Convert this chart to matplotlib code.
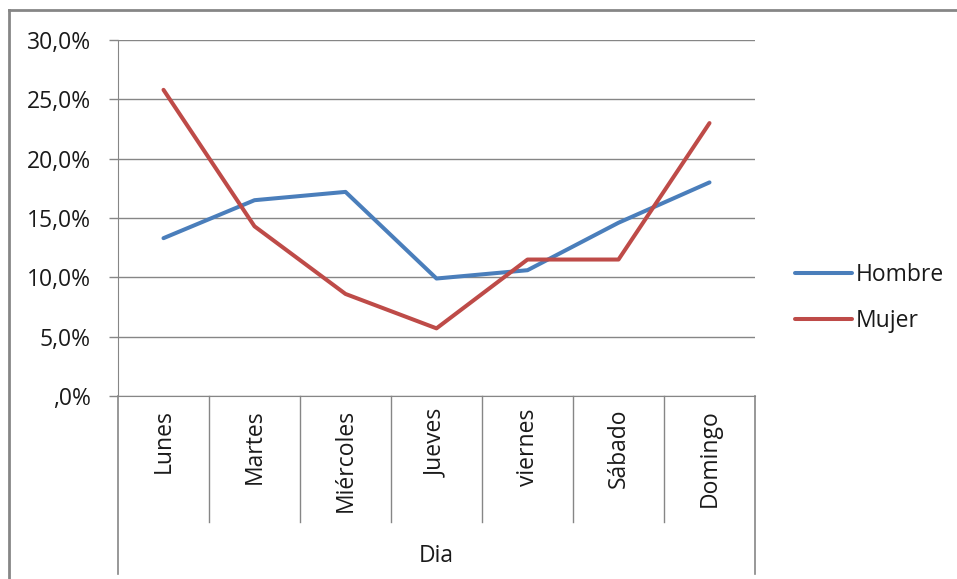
import matplotlib
matplotlib.use("Agg")
import matplotlib.pyplot as plt
from matplotlib.lines import Line2D
import matplotlib.transforms as mtransforms

categories = ["Lunes", "Martes", "Miércoles", "Jueves", "viernes", "Sábado", "Domingo"]
hombre = [13.3, 16.5, 17.2, 9.9, 10.6, 14.6, 18.0]
mujer = [25.8, 14.3, 8.6, 5.7, 11.5, 11.5, 23.0]
ytick_values = [0, 5, 10, 15, 20, 25, 30]
ytick_labels = [",0%", "5,0%", "10,0%", "15,0%", "20,0%", "25,0%", "30,0%"]
x_title = "Dia"
series_names = ["Hombre", "Mujer"]

plt.rcParams['font.family'] = ['Open Sans', 'DejaVu Sans']
FS = 16.5
TXT = "#1a1a1a"

W, H = 957, 579
fig = plt.figure(figsize=(W / 100, H / 100), dpi=100)

def fx(px):
    return px / W

def fy(py):
    return 1 - py / H

left, right, top, bottom = 118, 755, 40, 396
ax = fig.add_axes([fx(left), fy(bottom), fx(right) - fx(left), fy(top) - fy(bottom)])

xs = list(range(len(categories)))
grid_color = "#868686"
ax.plot(xs, hombre, color="#4A7EBB", lw=2.9, solid_capstyle="round", solid_joinstyle="round", label=series_names[0], zorder=3)
ax.plot(xs, mujer, color="#BE4B48", lw=2.9, solid_capstyle="round", solid_joinstyle="round", label=series_names[1], zorder=3)

ax.set_xlim(-0.5, len(categories) - 0.5)
ax.set_ylim(0, 30)
ax.set_yticks(ytick_values)
ax.set_yticklabels(ytick_labels, fontsize=FS, color=TXT)
ax.tick_params(axis="y", length=6.5, width=1, color=grid_color, pad=13)
ax.set_xticks([])
ax.grid(axis="y", color=grid_color, lw=1)
ax.set_axisbelow(True)
for s in ["top", "right"]:
    ax.spines[s].set_visible(False)
ax.spines["left"].set_color(grid_color)
ax.spines["bottom"].set_color(grid_color)
ax.spines["left"].set_bounds(0, 30)

# category axis box
trans = mtransforms.blended_transform_factory(ax.transData, fig.transFigure)
for b in [i - 0.5 for i in range(1, len(categories))]:
    fig.add_artist(Line2D([b, b], [fy(bottom), fy(522)], transform=trans, color=grid_color, lw=1))
for b in [-0.5, len(categories) - 0.5]:
    fig.add_artist(Line2D([b, b], [fy(bottom), fy(574)], transform=trans, color=grid_color, lw=1.2))
for i, c in enumerate(categories):
    fig.text(i, fy(409), c, transform=trans, rotation=90, ha="center", va="top", fontsize=FS, color=TXT)

fig.text(fx(436), fy(556), x_title, ha="center", va="center", fontsize=FS, color=TXT)

# outer chart frame
fig.add_artist(Line2D([fx(9), fx(9)], [fy(10), 0], transform=fig.transFigure, color="#868686", lw=2))
fig.add_artist(Line2D([fx(9), 1], [fy(10), fy(10)], transform=fig.transFigure, color="#868686", lw=2))

leg = fig.legend(loc="center left", bbox_to_anchor=(fx(795), fy(298)), frameon=False,
                 fontsize=FS, handlelength=2.5, handletextpad=0.15, labelspacing=0.98,
                 borderpad=0, borderaxespad=0)
for t in leg.get_texts():
    t.set_color(TXT)

fig.savefig("out.png", dpi=100, facecolor="white")
